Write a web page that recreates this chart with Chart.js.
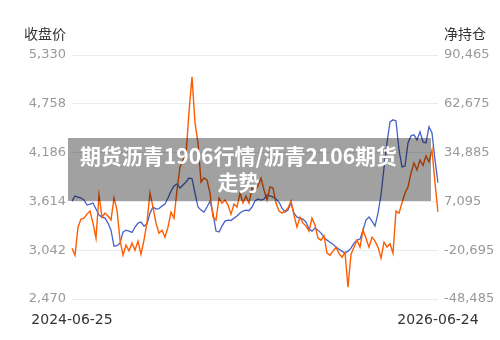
<!DOCTYPE html>
<html>
<head>
<meta charset="utf-8">
<script src="https://cdn.jsdelivr.net/npm/chart.js@4/dist/chart.umd.min.js"></script>
<style>
body { margin: 0; background: #fff; }
#wrap { position: relative; width: 500px; height: 340px; }
.axname { position: absolute; top: 23px; font: 14px "Noto Sans CJK SC", sans-serif; line-height: 20px; color: #333; }
#caption {
    position: absolute; left: 68px; top: 138px; width: 341px; height: 59px;
    padding: 4px 22px 0 0; background: rgba(0, 0, 0, 0.37);
    color: #fff; font: bold 21px "Noto Sans CJK SC", sans-serif; line-height: 26px; text-align: center;
}
</style>
</head>
<body>
<div id="wrap">
    <canvas id="mycanvas" width="500" height="340"></canvas>
    <div class="axname" style="right:434px">收盘价</div>
    <div class="axname" style="left:444px">净持仓</div>
    <div id="caption">期货沥青1906行情/沥青2106期货<br>走势</div>
</div>
<script>
var startDate = '2024-06-25';
var endDate = '2026-06-24';

// 收盘价 (left axis)
var closePrice = [
    3618, 3677, 3665, 3653, 3630, 3571, 3583, 3595, 3524, 3454,
    3430, 3418, 3360, 3277, 3089, 3095, 3125, 3254, 3277, 3266,
    3250, 3313, 3360, 3371, 3324, 3348, 3477, 3548, 3524, 3530,
    3559, 3583, 3653, 3736, 3794, 3818, 3771, 3806, 3841, 3888,
    3880, 3712, 3548, 3512, 3489, 3548, 3618, 3477, 3266, 3255,
    3324, 3383, 3395, 3390, 3418, 3442, 3477, 3501, 3512, 3505,
    3548, 3618, 3642, 3630, 3642, 3689, 3680, 3665, 3642, 3606,
    3536, 3489, 3512, 3595, 3477, 3430, 3418, 3407, 3371, 3289,
    3266, 3301, 3277, 3242, 3195, 3160, 3136, 3113, 3078, 3054,
    3031, 3007, 3031, 3066, 3125, 3160, 3172, 3277, 3395, 3430,
    3383, 3324, 3477, 3689, 4006, 4300, 4546, 4570, 4558, 4217,
    4018, 4029, 4300, 4382, 4394, 4335, 4429, 4311, 4300, 4488,
    4417, 4100, 3830
];

// 净持仓 (right axis)
var netPosition = [
    -19548, -23544, -7559, -2991, -2420, -137, 1576, -5275, -13838, 10710,
    -1850, 434, -1200, -3500, 8998, 2147, -14980, -23544, -17835, -21000,
    -16693, -20689, -15500, -23000, -14980, -4704, 11852, 3859, -5275, -10984,
    -9271, -13268, -7559, 1004, -2500, 13565, 26695, 30692, 33546, 58095,
    78076, 51815, 40397, 18132, 20416, 19274, 11852, -1850, -3562, 8998,
    6143, 7856, 5000, -137, 5572, 3859, 11852, 6143, 10139, 6143,
    14707, 13565, 15848, 20416, 13565, 7856, 15278, 14707, 6143, 1576,
    434, 1576, 3289, 7285, -708, -7559, -1850, -5275, -6988, -9842,
    -2420, -6417, -13838, -15000, -12500, -22402, -23544, -21260, -19000, -22500,
    -24685, -22000, -41813, -22973, -18977, -14980, -18977, -9271, -13838, -18977,
    -13268, -15500, -18977, -25256, -16122, -18977, -17000, -22402, 1576, 434,
    6143, 11852, 15278, 23270, 28979, 25000, 30692, 27500, 32975, 29550,
    36401, 17561, 1004
];

var leftTicks = [2470, 3042, 3614, 4186, 4758, 5330];
var rightTicks = [-48485, -20695, 7095, 34885, 62675, 90465];

// dates spread evenly between the first and the last day
var labels = [];
var t0 = Date.parse(startDate + 'T00:00:00Z');
var t1 = Date.parse(endDate + 'T00:00:00Z');
var n = closePrice.length;
for (var i = 0; i < n; i++) {
    var d = new Date(t0 + Math.round((t1 - t0) / 86400000 * i / (n - 1)) * 86400000);
    labels.push(d.toISOString().slice(0, 10));
}

var tickFont = { family: 'DejaVu Sans', size: 13 };

var ctx = document.getElementById('mycanvas');
var chart = new Chart(ctx, {
    type: 'line',
    data: {
        labels: labels,
        datasets: [{
            label: '净持仓',
            data: netPosition,
            yAxisID: 'y1',
            borderColor: 'rgb(255, 92, 0)',
            borderWidth: 1.4,
            pointRadius: 0,
            tension: 0,
            order: 0
        }, {
            label: '收盘价',
            data: closePrice,
            yAxisID: 'y',
            borderColor: 'rgb(72, 98, 200)',
            borderWidth: 1.3,
            pointRadius: 0,
            tension: 0,
            order: 1
        }]
    },
    options: {
        responsive: false,
        animation: false,
        layout: { padding: { top: 55, bottom: 0, left: 0, right: 0 } },
        plugins: { legend: { display: false }, tooltip: { enabled: false } },
        scales: {
            x: {
                grid: { display: false, drawTicks: false },
                border: { display: false },
                ticks: {
                    autoSkip: false, maxRotation: 0, padding: 13,
                    color: '#333', font: { family: 'DejaVu Sans', size: 14 },
                    callback: function (v, i) {
                        return (i === 0 || i === n - 1) ? labels[i] : '';
                    }
                },
                afterFit: function (s) { s.height = 41; }
            },
            y: {
                position: 'left',
                min: leftTicks[0], max: leftTicks[leftTicks.length - 1],
                afterBuildTicks: function (s) { s.ticks = leftTicks.map(function (v) { return { value: v }; }); },
                grid: { color: '#e6eaf3', drawTicks: false },
                border: { display: false },
                ticks: { padding: 6, color: '#999', font: tickFont },
                afterFit: function (s) { s.width = 72; }
            },
            y1: {
                position: 'right',
                min: rightTicks[0], max: rightTicks[rightTicks.length - 1],
                afterBuildTicks: function (s) { s.ticks = rightTicks.map(function (v) { return { value: v }; }); },
                grid: { drawOnChartArea: false, drawTicks: false },
                border: { display: false },
                ticks: { padding: 6, color: '#999', font: tickFont },
                afterFit: function (s) { s.width = 62; }
            }
        }
    }
});
</script>
</body>
</html>
